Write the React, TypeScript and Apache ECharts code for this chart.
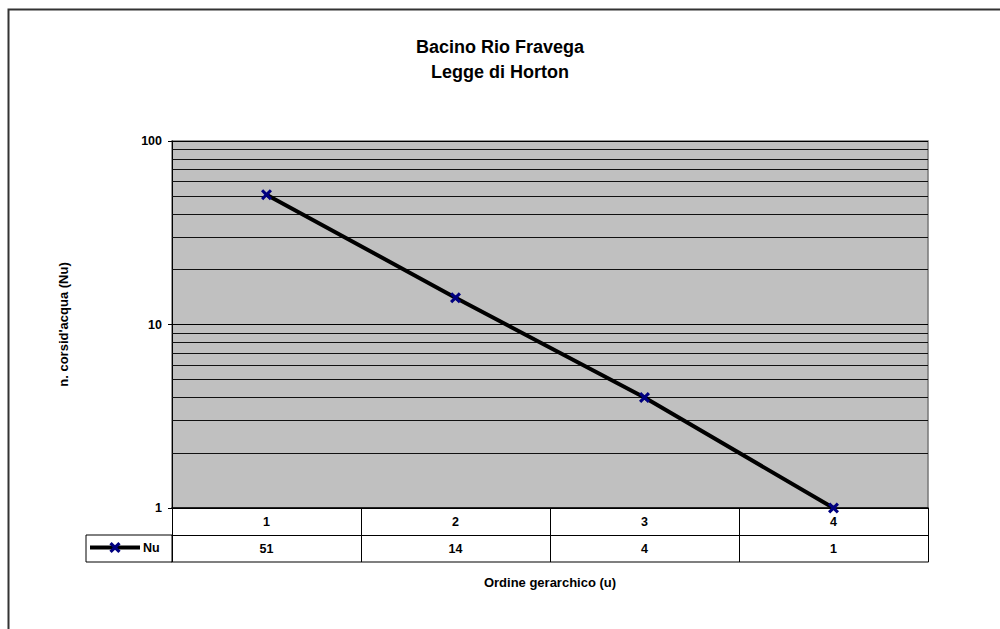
import React, { useEffect, useRef } from "react";
import * as echarts from "echarts";

const categories = ["1", "2", "3", "4"];
const nuValues = [51, 14, 4, 1];
const seriesName = "Nu";
const minorGridValues = [2, 3, 4, 5, 6, 7, 8, 9, 20, 30, 40, 50, 60, 70, 80, 90];
const titleLines = ["Bacino Rio Fravega", "Legge di Horton"];
const yAxisTitle = "n. corsid'acqua (Nu)";
const xAxisTitle = "Ordine gerarchico (u)";

const FONT = "'Liberation Sans', Arial, sans-serif";
const X_MARK =
  "path://M0,2 L2,0 L5,3 L8,0 L10,2 L7,5 L10,8 L8,10 L5,7 L2,10 L0,8 L3,5 Z";

export default function App() {
  const ref = useRef<HTMLDivElement>(null);
  useEffect(() => {
    if (!ref.current) return;
    const chart = echarts.init(ref.current, undefined, { renderer: "svg" });
    const gridLeft = 172;
    const gridRight = 72;
    const gridTop = 141;
    const gridBottom = 121;
    const labelStyle = { color: "#000", fontFamily: FONT, fontWeight: "bold" as const, fontSize: 12.5 };
    const titleStyle = { ...labelStyle, fontSize: 13 };
    chart.setOption({
      animation: false,
      backgroundColor: "#fff",
      textStyle: { fontFamily: FONT },
      title: {
        text: titleLines.join("\n"),
        left: "center",
        top: 29,
        textStyle: { fontFamily: FONT, fontWeight: "bold", fontSize: 18, lineHeight: 25, color: "#000" },
      },
      legend: {
        data: [seriesName],
        left: 88,
        top: 541,
        itemWidth: 50,
        itemHeight: 14,
        itemGap: 0,
        padding: 0,
        lineStyle: { width: 4, color: "#000" },
        textStyle: { ...labelStyle, padding: [0, 0, 0, -2] },
      },
      grid: {
        left: gridLeft,
        right: gridRight,
        top: gridTop,
        bottom: gridBottom,
        show: true,
        backgroundColor: "#C0C0C0",
        borderColor: "#777",
        borderWidth: 1.5,
      },
      xAxis: [
        {
          type: "category",
          data: categories,
          position: "bottom",
          boundaryGap: true,
          axisLine: { show: true, lineStyle: { color: "#000", width: 1.5 } },
          axisTick: { show: true, inside: false, length: 54, interval: 0, lineStyle: { color: "#000", width: 1 } },
          axisLabel: { ...labelStyle, margin: 7, interval: 0 },
          splitLine: { show: false },
        },
        {
          type: "category",
          data: nuValues.map((v) => String(v)),
          position: "bottom",
          offset: 27,
          boundaryGap: true,
          axisLine: { show: true, lineStyle: { color: "#000", width: 1 } },
          axisTick: { show: false },
          axisLabel: { ...labelStyle, margin: 7, interval: 0 },
          name: xAxisTitle,
          nameLocation: "middle",
          nameGap: 41,
          nameTextStyle: titleStyle,
        },
        {
          type: "category",
          data: categories,
          position: "bottom",
          offset: 54,
          boundaryGap: true,
          axisLine: { show: true, lineStyle: { color: "#555", width: 1.5 } },
          axisTick: { show: false },
          axisLabel: { show: false },
        },
      ],
      yAxis: {
        type: "log",
        logBase: 10,
        min: 1,
        max: 100,
        axisLine: { show: true, lineStyle: { color: "#000", width: 1 } },
        axisTick: { show: true, inside: false, length: 4, lineStyle: { color: "#000" } },
        axisLabel: { ...labelStyle, margin: 10 },
        splitLine: { show: true, lineStyle: { color: "#000", width: 1 } },
        name: yAxisTitle,
        nameLocation: "middle",
        nameRotate: 90,
        nameGap: 102,
        nameTextStyle: titleStyle,
      },
      graphic: [
        {
          type: "rect",
          shape: { x: 8.5, y: 9.5, width: 1100, height: 800 },
          style: { fill: "none", stroke: "#333", lineWidth: 2 },
          silent: true,
          z: 0,
        },
        {
          type: "rect",
          shape: { x: 86, y: 535, width: 86, height: 27 },
          style: { fill: "none", stroke: "#000", lineWidth: 1 },
          silent: true,
          z: 10,
        },
      ],
      series: [
        {
          name: "gridlines",
          type: "line",
          data: [],
          z: 1,
          silent: true,
          markLine: {
            silent: true,
            symbol: ["none", "none"],
            label: { show: false },
            lineStyle: { color: "#111", width: 1, type: "solid" },
            data: minorGridValues.map((v) => ({ yAxis: v })),
          },
        },
        {
          name: seriesName,
          type: "line",
          data: nuValues,
          z: 5,
          clip: false,
          symbol: X_MARK,
          symbolSize: 11,
          showAllSymbol: true,
          lineStyle: { color: "#000", width: 4 },
          itemStyle: { color: "#000080" },
        },
      ],
    });
    return () => chart.dispose();
  }, []);
  return (
    <div
      ref={ref}
      style={{ position: "fixed", left: 0, top: 0, width: 1000, height: 629 }}
    />
  );
}
